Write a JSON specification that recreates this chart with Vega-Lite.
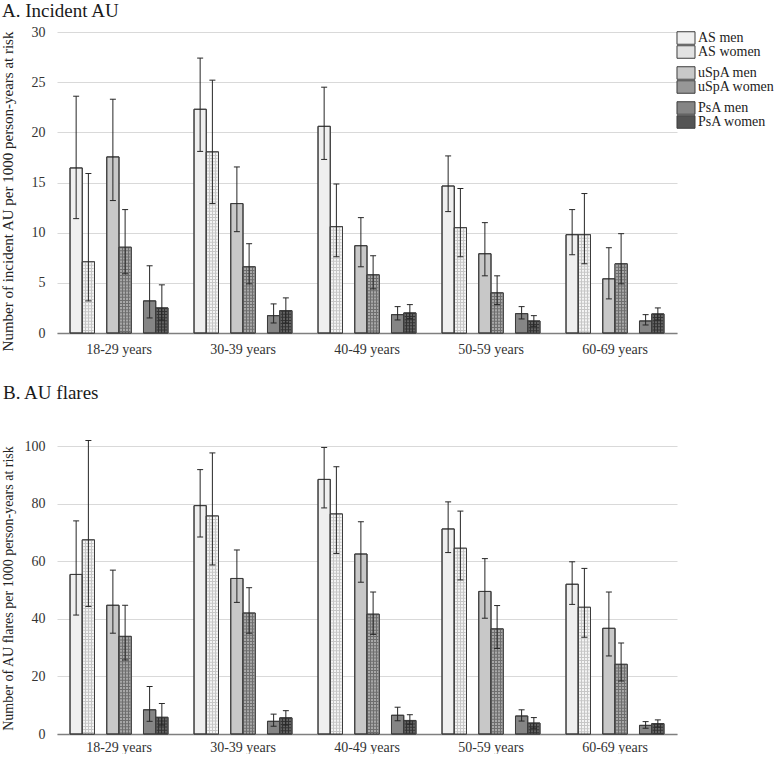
{
  "$schema": "https://vega.github.io/schema/vega-lite/v6.json",
  "padding": {"left": 0, "top": 2, "right": 0, "bottom": 0},
  "spacing": 28,
  "config": {"font": "Liberation Serif", "view": {"stroke": null},
    "axis": {"labelFont": "Liberation Serif", "titleFont": "Liberation Serif"},
    "legend": {"labelFont": "Liberation Serif"}},
  "resolve": {"scale": {"fill": "shared", "stroke": "shared"}},
  "datasets": {
    "incident": [
      {"age": "18-29 years", "series": "AS men", "value": 16.45, "lo": 11.4, "hi": 23.6},
      {"age": "18-29 years", "series": "AS women", "value": 7.1, "lo": 3.2, "hi": 15.9},
      {"age": "18-29 years", "series": "uSpA men", "value": 17.55, "lo": 13.2, "hi": 23.3},
      {"age": "18-29 years", "series": "uSpA women", "value": 8.55, "lo": 5.9, "hi": 12.3},
      {"age": "18-29 years", "series": "PsA men", "value": 3.2, "lo": 1.5, "hi": 6.7},
      {"age": "18-29 years", "series": "PsA women", "value": 2.5, "lo": 1.3, "hi": 4.8},
      {"age": "30-39 years", "series": "AS men", "value": 22.3, "lo": 18.1, "hi": 27.4},
      {"age": "30-39 years", "series": "AS women", "value": 18.05, "lo": 12.9, "hi": 25.2},
      {"age": "30-39 years", "series": "uSpA men", "value": 12.9, "lo": 10.1, "hi": 16.55},
      {"age": "30-39 years", "series": "uSpA women", "value": 6.6, "lo": 4.9, "hi": 8.9},
      {"age": "30-39 years", "series": "PsA men", "value": 1.73, "lo": 1.0, "hi": 2.9},
      {"age": "30-39 years", "series": "PsA women", "value": 2.23, "lo": 1.0, "hi": 3.5},
      {"age": "40-49 years", "series": "AS men", "value": 20.6, "lo": 17.3, "hi": 24.5},
      {"age": "40-49 years", "series": "AS women", "value": 10.6, "lo": 7.6, "hi": 14.85},
      {"age": "40-49 years", "series": "uSpA men", "value": 8.7, "lo": 6.6, "hi": 11.5},
      {"age": "40-49 years", "series": "uSpA women", "value": 5.8, "lo": 4.4, "hi": 7.7},
      {"age": "40-49 years", "series": "PsA men", "value": 1.83, "lo": 1.3, "hi": 2.63},
      {"age": "40-49 years", "series": "PsA women", "value": 2.0, "lo": 1.43, "hi": 2.83},
      {"age": "50-59 years", "series": "AS men", "value": 14.65, "lo": 12.1, "hi": 17.65},
      {"age": "50-59 years", "series": "AS women", "value": 10.5, "lo": 7.6, "hi": 14.4},
      {"age": "50-59 years", "series": "uSpA men", "value": 7.9, "lo": 5.7, "hi": 11.0},
      {"age": "50-59 years", "series": "uSpA women", "value": 4.0, "lo": 2.83, "hi": 5.7},
      {"age": "50-59 years", "series": "PsA men", "value": 1.93, "lo": 1.4, "hi": 2.63},
      {"age": "50-59 years", "series": "PsA women", "value": 1.2, "lo": 0.67, "hi": 1.73},
      {"age": "60-69 years", "series": "AS men", "value": 9.8, "lo": 7.8, "hi": 12.3},
      {"age": "60-69 years", "series": "AS women", "value": 9.8, "lo": 6.9, "hi": 13.9},
      {"age": "60-69 years", "series": "uSpA men", "value": 5.4, "lo": 3.4, "hi": 8.5},
      {"age": "60-69 years", "series": "uSpA women", "value": 6.9, "lo": 4.9, "hi": 9.9},
      {"age": "60-69 years", "series": "PsA men", "value": 1.2, "lo": 0.8, "hi": 1.83},
      {"age": "60-69 years", "series": "PsA women", "value": 1.9, "lo": 1.3, "hi": 2.5}
    ],
    "flares": [
      {"age": "18-29 years", "series": "AS men", "value": 55.4, "lo": 41.3, "hi": 74.0},
      {"age": "18-29 years", "series": "AS women", "value": 67.4, "lo": 44.3, "hi": 101.9},
      {"age": "18-29 years", "series": "uSpA men", "value": 44.7, "lo": 35.0, "hi": 56.9},
      {"age": "18-29 years", "series": "uSpA women", "value": 33.9, "lo": 25.7, "hi": 44.7},
      {"age": "18-29 years", "series": "PsA men", "value": 8.4, "lo": 4.4, "hi": 16.5},
      {"age": "18-29 years", "series": "PsA women", "value": 5.8, "lo": 3.1, "hi": 10.6},
      {"age": "30-39 years", "series": "AS men", "value": 79.3, "lo": 68.4, "hi": 91.8},
      {"age": "30-39 years", "series": "AS women", "value": 75.7, "lo": 58.7, "hi": 97.6},
      {"age": "30-39 years", "series": "uSpA men", "value": 54.0, "lo": 45.7, "hi": 63.9},
      {"age": "30-39 years", "series": "uSpA women", "value": 42.0, "lo": 35.0, "hi": 50.8},
      {"age": "30-39 years", "series": "PsA men", "value": 4.4, "lo": 2.7, "hi": 6.9},
      {"age": "30-39 years", "series": "PsA women", "value": 5.6, "lo": 3.1, "hi": 8.1},
      {"age": "40-49 years", "series": "AS men", "value": 88.4, "lo": 78.5, "hi": 99.5},
      {"age": "40-49 years", "series": "AS women", "value": 76.4, "lo": 62.7, "hi": 92.8},
      {"age": "40-49 years", "series": "uSpA men", "value": 62.5, "lo": 52.7, "hi": 73.7},
      {"age": "40-49 years", "series": "uSpA women", "value": 41.6, "lo": 34.6, "hi": 49.3},
      {"age": "40-49 years", "series": "PsA men", "value": 6.5, "lo": 4.6, "hi": 9.3},
      {"age": "40-49 years", "series": "PsA women", "value": 4.7, "lo": 3.4, "hi": 6.7},
      {"age": "50-59 years", "series": "AS men", "value": 71.2, "lo": 63.0, "hi": 80.6},
      {"age": "50-59 years", "series": "AS women", "value": 64.5, "lo": 53.5, "hi": 77.4},
      {"age": "50-59 years", "series": "uSpA men", "value": 49.5, "lo": 40.2, "hi": 60.9},
      {"age": "50-59 years", "series": "uSpA women", "value": 36.5, "lo": 29.7, "hi": 44.6},
      {"age": "50-59 years", "series": "PsA men", "value": 6.25, "lo": 4.5, "hi": 8.4},
      {"age": "50-59 years", "series": "PsA women", "value": 3.8, "lo": 2.0, "hi": 5.7},
      {"age": "60-69 years", "series": "AS men", "value": 52.0, "lo": 45.0, "hi": 59.8},
      {"age": "60-69 years", "series": "AS women", "value": 44.0, "lo": 33.6, "hi": 57.5},
      {"age": "60-69 years", "series": "uSpA men", "value": 36.7, "lo": 27.1, "hi": 49.3},
      {"age": "60-69 years", "series": "uSpA women", "value": 24.2, "lo": 18.4, "hi": 31.6},
      {"age": "60-69 years", "series": "PsA men", "value": 3.0, "lo": 2.0, "hi": 4.3},
      {"age": "60-69 years", "series": "PsA women", "value": 3.6, "lo": 2.4, "hi": 4.9}
    ]
  },
  "vconcat": [
    {
      "width": 620,
      "height": 301,
      "title": {"text": "A. Incident AU", "anchor": "start", "frame": "bounds", "fontSize": 19, "font": "Liberation Serif", "fontWeight": "normal", "color": "#1a1a1a", "offset": 4, "dx": 2},
      "data": {"name": "incident"},
      "encoding": {
        "x": {"field": "age", "type": "nominal", "title": null,
          "scale": {"paddingInner": 0.21, "paddingOuter": 0.105},
          "axis": {"labelAngle": 0, "labelFontSize": 14, "labelPadding": 9, "ticks": false, "domainColor": "#7f7f7f", "domainWidth": 1.5, "labelColor": "#333333"}},
        "xOffset": {"field": "series", "type": "nominal",
          "scale": {"domain": ["AS men", "AS women", "g1", "uSpA men", "uSpA women", "g2", "PsA men", "PsA women"], "paddingInner": 0, "paddingOuter": 0}}
      },
      "layer": [
        {
          "mark": {"type": "bar", "stroke": "#3c3c3c", "strokeWidth": 1},
          "encoding": {
            "y": {"field": "value", "type": "quantitative", "title": "Number of incident AU per 1000 person-years at risk",
              "scale": {"domain": [0, 30]},
              "axis": {"values": [0, 5, 10, 15, 20, 25, 30], "grid": true, "gridColor": "#d9d9d9", "domain": false, "ticks": false, "labelPadding": 12, "labelFontSize": 14, "labelColor": "#333333", "titleFontSize": 15, "titleFontWeight": "normal", "titleColor": "#222222", "titleX": -42, "titleY": 159, "titleBaseline": "bottom"}},
            "fill": {"field": "series", "type": "nominal",
              "scale": {"domain": ["AS men", "AS women", "g1", "uSpA men", "uSpA women", "g2", "PsA men", "PsA women"],
                "range": ["#efefef", "#e2e2e2", "rgba(0,0,0,0)", "#c8c8c8", "#979797", "rgba(0,0,0,0)", "#858585", "#545454"]},
              "legend": {"orient": "none", "legendX": 622, "legendY": -1, "title": null, "symbolType": "M-1.286,-0.893H1.286V0.893H-1.286Z", "symbolSize": 196, "symbolStrokeColor": "#3c3c3c", "symbolStrokeWidth": 1, "labelFontSize": 14, "labelFont": "Liberation Serif", "labelColor": "#222222", "labelOffset": 5, "rowPadding": -0.5,
                "labelExpr": "datum.label == 'g1' || datum.label == 'g2' ? '' : datum.label",
                "encode": {
                  "symbols": {"update": {
                    "size": {"signal": "datum.value == 'g1' || datum.value == 'g2' ? 0 : 196"},
                    "strokeOpacity": {"signal": "datum.value == 'g1' || datum.value == 'g2' ? 0 : 1"},
                    "strokeWidth": {"signal": "datum.value == 'g1' || datum.value == 'g2' ? 0 : 1"},
                    "strokeJoin": {"value": "bevel"}}},
                  "labels": {"update": {"fontSize": {"signal": "datum.value == 'g1' || datum.value == 'g2' ? 1 : 14"}}}}}
            }
          }
        },
        {
          "transform": [{"filter": "datum.series == 'AS women'"}],
          "mark": {"type": "bar", "strokeWidth": 0, "fill": {"gradient": "linear", "x1": 0, "y1": 0, "x2": 1, "y2": 0, "stops": [
            {"offset": 0, "color": "#f4f4f4"}, {"offset": 0.21, "color": "#f4f4f4"}, {"offset": 0.21, "color": "#c6c6c6"}, {"offset": 0.29, "color": "#c6c6c6"}, {"offset": 0.29, "color": "#f4f4f4"},
            {"offset": 0.46, "color": "#f4f4f4"}, {"offset": 0.46, "color": "#c6c6c6"}, {"offset": 0.54, "color": "#c6c6c6"}, {"offset": 0.54, "color": "#f4f4f4"},
            {"offset": 0.71, "color": "#f4f4f4"}, {"offset": 0.71, "color": "#c6c6c6"}, {"offset": 0.79, "color": "#c6c6c6"}, {"offset": 0.79, "color": "#f4f4f4"}, {"offset": 1, "color": "#f4f4f4"}]}},
          "encoding": {"y": {"field": "value", "type": "quantitative"}}
        },
        {
          "transform": [{"filter": "datum.series == 'uSpA women'"}],
          "mark": {"type": "bar", "strokeWidth": 0, "fill": {"gradient": "linear", "x1": 0, "y1": 0, "x2": 1, "y2": 0, "stops": [
            {"offset": 0, "color": "#a8a8a8"}, {"offset": 0.21, "color": "#a8a8a8"}, {"offset": 0.21, "color": "#6e6e6e"}, {"offset": 0.29, "color": "#6e6e6e"}, {"offset": 0.29, "color": "#a8a8a8"},
            {"offset": 0.46, "color": "#a8a8a8"}, {"offset": 0.46, "color": "#6e6e6e"}, {"offset": 0.54, "color": "#6e6e6e"}, {"offset": 0.54, "color": "#a8a8a8"},
            {"offset": 0.71, "color": "#a8a8a8"}, {"offset": 0.71, "color": "#6e6e6e"}, {"offset": 0.79, "color": "#6e6e6e"}, {"offset": 0.79, "color": "#a8a8a8"}, {"offset": 1, "color": "#a8a8a8"}]}},
          "encoding": {"y": {"field": "value", "type": "quantitative"}}
        },
        {
          "transform": [{"filter": "datum.series == 'PsA women'"}],
          "mark": {"type": "bar", "strokeWidth": 0, "fill": {"gradient": "linear", "x1": 0, "y1": 0, "x2": 1, "y2": 0, "stops": [
            {"offset": 0, "color": "#626262"}, {"offset": 0.21, "color": "#626262"}, {"offset": 0.21, "color": "#333333"}, {"offset": 0.29, "color": "#333333"}, {"offset": 0.29, "color": "#626262"},
            {"offset": 0.46, "color": "#626262"}, {"offset": 0.46, "color": "#333333"}, {"offset": 0.54, "color": "#333333"}, {"offset": 0.54, "color": "#626262"},
            {"offset": 0.71, "color": "#626262"}, {"offset": 0.71, "color": "#333333"}, {"offset": 0.79, "color": "#333333"}, {"offset": 0.79, "color": "#626262"}, {"offset": 1, "color": "#626262"}]}},
          "encoding": {"y": {"field": "value", "type": "quantitative"}}
        },
        {
          "transform": [{"filter": "indexof(datum.series, 'women') >= 0"}],
          "mark": {"type": "rule", "strokeWidth": 10.4, "strokeDash": [1, 2.1], "strokeCap": "butt"},
          "encoding": {
            "y": {"field": "value", "type": "quantitative"},
            "y2": {"datum": 0},
            "stroke": {"field": "series", "type": "nominal", "scale": {"domain": ["AS women", "uSpA women", "PsA women"], "range": ["#c6c6c6", "#6e6e6e", "#333333"]}, "legend": null}
          }
        },
        {
          "mark": {"type": "bar", "fillOpacity": 0, "stroke": "#3c3c3c", "strokeWidth": 1},
          "encoding": {"y": {"field": "value", "type": "quantitative"}}
        },
        {
          "mark": {"type": "rule", "color": "#262626", "strokeWidth": 1},
          "encoding": {"y": {"field": "lo", "type": "quantitative"}, "y2": {"field": "hi"}}
        },
        {
          "mark": {"type": "tick", "size": 6, "thickness": 1, "color": "#262626", "opacity": 1},
          "encoding": {"y": {"field": "lo", "type": "quantitative"}}
        },
        {
          "mark": {"type": "tick", "size": 6, "thickness": 1, "color": "#262626", "opacity": 1},
          "encoding": {"y": {"field": "hi", "type": "quantitative"}}
        }
      ]
    },
    {
      "width": 620,
      "height": 288,
      "title": {"text": "B. AU flares", "anchor": "start", "frame": "bounds", "fontSize": 19, "font": "Liberation Serif", "fontWeight": "normal", "color": "#1a1a1a", "offset": 36, "dx": 2},
      "data": {"name": "flares"},
      "encoding": {
        "x": {"field": "age", "type": "nominal", "title": null,
          "scale": {"paddingInner": 0.21, "paddingOuter": 0.105},
          "axis": {"labelAngle": 0, "labelFontSize": 14, "labelPadding": 6, "ticks": false, "domainColor": "#7f7f7f", "domainWidth": 1.5, "labelColor": "#333333"}},
        "xOffset": {"field": "series", "type": "nominal",
          "scale": {"domain": ["AS men", "AS women", "g1", "uSpA men", "uSpA women", "g2", "PsA men", "PsA women"], "paddingInner": 0, "paddingOuter": 0}}
      },
      "layer": [
        {
          "mark": {"type": "bar", "stroke": "#3c3c3c", "strokeWidth": 1},
          "encoding": {
            "y": {"field": "value", "type": "quantitative", "title": "Number of AU flares per 1000 person-years at risk",
              "scale": {"domain": [0, 100]},
              "axis": {"values": [0, 20, 40, 60, 80, 100], "grid": true, "gridColor": "#d9d9d9", "domain": false, "ticks": false, "labelPadding": 12, "labelFontSize": 14, "labelColor": "#333333", "titleFontSize": 14, "titleFontWeight": "normal", "titleColor": "#222222", "titleX": -42, "titleY": 142, "titleBaseline": "bottom"}},
            "fill": {"field": "series", "type": "nominal",
              "legend": {"orient": "none", "legendX": 622, "legendY": -1, "title": null, "symbolType": "M-1.286,-0.893H1.286V0.893H-1.286Z", "symbolSize": 196, "symbolStrokeColor": "#3c3c3c", "symbolStrokeWidth": 1, "labelFontSize": 14, "labelFont": "Liberation Serif", "labelColor": "#222222", "labelOffset": 5, "rowPadding": -0.5,
                "labelExpr": "datum.label == 'g1' || datum.label == 'g2' ? '' : datum.label",
                "encode": {
                  "symbols": {"update": {
                    "size": {"signal": "datum.value == 'g1' || datum.value == 'g2' ? 0 : 196"},
                    "strokeOpacity": {"signal": "datum.value == 'g1' || datum.value == 'g2' ? 0 : 1"},
                    "strokeWidth": {"signal": "datum.value == 'g1' || datum.value == 'g2' ? 0 : 1"},
                    "strokeJoin": {"value": "bevel"}}},
                  "labels": {"update": {"fontSize": {"signal": "datum.value == 'g1' || datum.value == 'g2' ? 1 : 14"}}}}}
            }
          }
        },
        {
          "transform": [{"filter": "datum.series == 'AS women'"}],
          "mark": {"type": "bar", "strokeWidth": 0, "fill": {"gradient": "linear", "x1": 0, "y1": 0, "x2": 1, "y2": 0, "stops": [
            {"offset": 0, "color": "#f4f4f4"}, {"offset": 0.21, "color": "#f4f4f4"}, {"offset": 0.21, "color": "#c6c6c6"}, {"offset": 0.29, "color": "#c6c6c6"}, {"offset": 0.29, "color": "#f4f4f4"},
            {"offset": 0.46, "color": "#f4f4f4"}, {"offset": 0.46, "color": "#c6c6c6"}, {"offset": 0.54, "color": "#c6c6c6"}, {"offset": 0.54, "color": "#f4f4f4"},
            {"offset": 0.71, "color": "#f4f4f4"}, {"offset": 0.71, "color": "#c6c6c6"}, {"offset": 0.79, "color": "#c6c6c6"}, {"offset": 0.79, "color": "#f4f4f4"}, {"offset": 1, "color": "#f4f4f4"}]}},
          "encoding": {"y": {"field": "value", "type": "quantitative"}}
        },
        {
          "transform": [{"filter": "datum.series == 'uSpA women'"}],
          "mark": {"type": "bar", "strokeWidth": 0, "fill": {"gradient": "linear", "x1": 0, "y1": 0, "x2": 1, "y2": 0, "stops": [
            {"offset": 0, "color": "#a8a8a8"}, {"offset": 0.21, "color": "#a8a8a8"}, {"offset": 0.21, "color": "#6e6e6e"}, {"offset": 0.29, "color": "#6e6e6e"}, {"offset": 0.29, "color": "#a8a8a8"},
            {"offset": 0.46, "color": "#a8a8a8"}, {"offset": 0.46, "color": "#6e6e6e"}, {"offset": 0.54, "color": "#6e6e6e"}, {"offset": 0.54, "color": "#a8a8a8"},
            {"offset": 0.71, "color": "#a8a8a8"}, {"offset": 0.71, "color": "#6e6e6e"}, {"offset": 0.79, "color": "#6e6e6e"}, {"offset": 0.79, "color": "#a8a8a8"}, {"offset": 1, "color": "#a8a8a8"}]}},
          "encoding": {"y": {"field": "value", "type": "quantitative"}}
        },
        {
          "transform": [{"filter": "datum.series == 'PsA women'"}],
          "mark": {"type": "bar", "strokeWidth": 0, "fill": {"gradient": "linear", "x1": 0, "y1": 0, "x2": 1, "y2": 0, "stops": [
            {"offset": 0, "color": "#626262"}, {"offset": 0.21, "color": "#626262"}, {"offset": 0.21, "color": "#333333"}, {"offset": 0.29, "color": "#333333"}, {"offset": 0.29, "color": "#626262"},
            {"offset": 0.46, "color": "#626262"}, {"offset": 0.46, "color": "#333333"}, {"offset": 0.54, "color": "#333333"}, {"offset": 0.54, "color": "#626262"},
            {"offset": 0.71, "color": "#626262"}, {"offset": 0.71, "color": "#333333"}, {"offset": 0.79, "color": "#333333"}, {"offset": 0.79, "color": "#626262"}, {"offset": 1, "color": "#626262"}]}},
          "encoding": {"y": {"field": "value", "type": "quantitative"}}
        },
        {
          "transform": [{"filter": "indexof(datum.series, 'women') >= 0"}],
          "mark": {"type": "rule", "strokeWidth": 10.4, "strokeDash": [1, 2.1], "strokeCap": "butt"},
          "encoding": {
            "y": {"field": "value", "type": "quantitative"},
            "y2": {"datum": 0},
            "stroke": {"field": "series", "type": "nominal", "legend": null}
          }
        },
        {
          "mark": {"type": "bar", "fillOpacity": 0, "stroke": "#3c3c3c", "strokeWidth": 1},
          "encoding": {"y": {"field": "value", "type": "quantitative"}}
        },
        {
          "mark": {"type": "rule", "color": "#262626", "strokeWidth": 1},
          "encoding": {"y": {"field": "lo", "type": "quantitative"}, "y2": {"field": "hi"}}
        },
        {
          "mark": {"type": "tick", "size": 6, "thickness": 1, "color": "#262626", "opacity": 1},
          "encoding": {"y": {"field": "lo", "type": "quantitative"}}
        },
        {
          "mark": {"type": "tick", "size": 6, "thickness": 1, "color": "#262626", "opacity": 1},
          "encoding": {"y": {"field": "hi", "type": "quantitative"}}
        }
      ]
    }
  ]
}
